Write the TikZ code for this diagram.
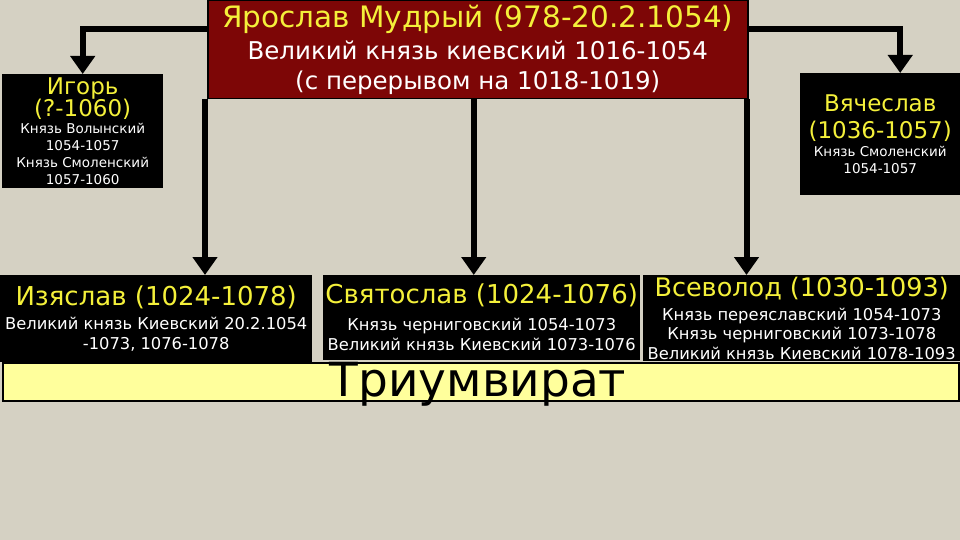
\documentclass[tikz,border=0pt]{standalone}
\usepackage{fontspec}
\setmainfont{DejaVu Sans}
\usetikzlibrary{positioning,arrows.meta}
\definecolor{bgbeige}{HTML}{D5D1C3}
\definecolor{tsarred}{HTML}{7D0606}
\definecolor{nameyel}{HTML}{F4F03A}
\definecolor{barpale}{HTML}{FFFF9C}
\newcommand{\fsz}[2]{\fontsize{#1}{#2}\selectfont}
\newcommand{\yname}[2]{{\color{nameyel}\fsz{#1}{#1}#2}}
\tikzset{
  prince/.style={fill=black, text=white, align=center, inner sep=0pt, anchor=north west},
  link/.style={line width=6pt, -{Triangle[width=24pt,length=18pt]}},
}

\begin{document}
\begin{tikzpicture}[x=1pt,y=-1pt]
\fill[bgbeige] (0,0) rectangle (960,540);
\useasboundingbox (0,0) rectangle (960,540);

% triumvirate bar
\node[draw=black, line width=2pt, fill=barpale, anchor=north west,
  minimum width=956pt, minimum height=38pt, inner sep=0pt] (bar) at (2,362) {};
\node[font=\fsz{47}{47}] (triumv) at (478,384) {Триумвират};

% Yaroslav
\node[prince, fill=tsarred, draw=black, line width=1.5pt,
  minimum width=540pt, minimum height=98pt, font=\fsz{24.5}{30}] (yaroslav) at (207,0)
  {\yname{29.5}{Ярослав Мудрый (978-20.2.1054)}\\[2pt]
   Великий князь киевский 1016-1054\\
   (с перерывом на 1018-1019)};

% sons, top row
\node[prince, minimum width=161pt, minimum height=114pt, font=\fsz{13.5}{17}] (igor) at (2,74)
  {\yname{23}{Игорь}\\[-1pt]
   \yname{23}{(?-1060)}\\[0pt]
   Князь Волынский\\
   1054-1057\\
   Князь Смоленский\\
   1057-1060};
\node[prince, minimum width=160pt, minimum height=122pt, font=\fsz{13.5}{17}] (vyacheslav) at (800,73)
  {\yname{23}{Вячеслав}\\[8pt]
   \yname{23}{(1036-1057)}\\[1pt]
   Князь Смоленский\\
   1054-1057};

% sons, bottom row
\node[prince, minimum width=312pt, minimum height=87pt, font=\fsz{16.3}{20}] (izyaslav) at (0,275)
  {\yname{26}{Изяслав (1024-1078)}\\[4pt]
   Великий князь Киевский 20.2.1054\\
   -1073, 1076-1078};
\node[prince, minimum width=317pt, minimum height=85pt, font=\fsz{16.3}{20}] (svyatoslav) at (323,275)
  {\yname{26}{Святослав (1024-1076)}\\[7pt]
   Князь черниговский 1054-1073\\
   Великий князь Киевский 1073-1076};
\node[prince, minimum width=317pt, minimum height=86pt, font=\fsz{16.3}{19.5}] (vsevolod) at (643,275)
  {\yname{25.5}{Всеволод (1030-1093)}\\[4.5pt]
   Князь переяславский 1054-1073\\
   Князь черниговский 1073-1078\\
   Великий князь Киевский 1078-1093};

% connectors
\draw[link] ([yshift=21pt]yaroslav.west) -| (igor.north);
\draw[link] ([yshift=21pt]yaroslav.east) -| ([xshift=20pt]vyacheslav.north);
\draw[link] ([xshift=-2pt]yaroslav.south west) -- ([xshift=-2pt]yaroslav.south west |- izyaslav.north);
\draw[link] ([xshift=-4pt]yaroslav.south) -- ([xshift=-4pt]yaroslav.south |- svyatoslav.north);
\draw[link] ([xshift=-2pt]yaroslav.south east) -- ([xshift=-2pt]yaroslav.south east |- vsevolod.north);
\end{tikzpicture}
\end{document}
